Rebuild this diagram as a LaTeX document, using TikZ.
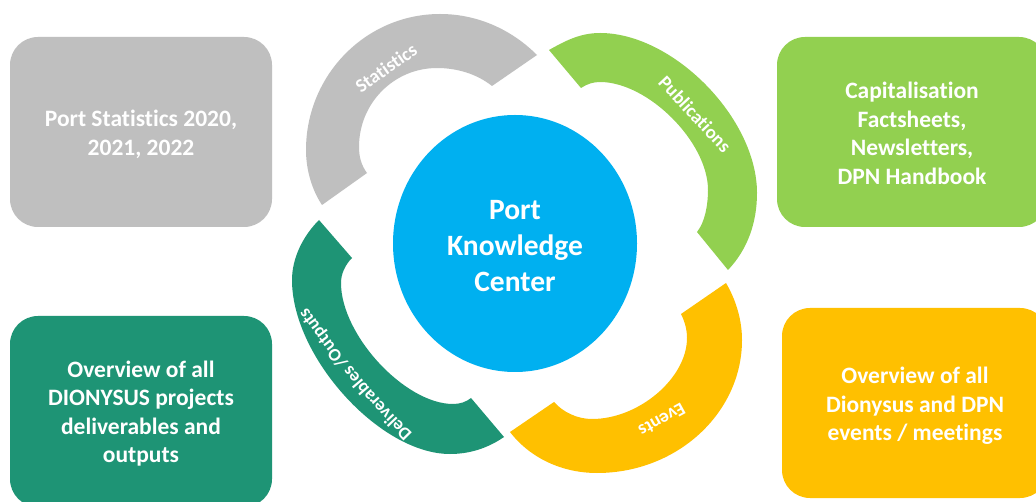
\documentclass[tikz,border=0pt]{standalone}
\usepackage{fontspec}
\setmainfont{Carlito}[Ligatures=CommonOff]
\usetikzlibrary{decorations.text,shapes.geometric}
\definecolor{cgray}{HTML}{BFBFBF}
\definecolor{cgreen}{HTML}{92D050}
\definecolor{cteal}{HTML}{1E9475}
\definecolor{camber}{HTML}{FFC000}
\definecolor{cblue}{HTML}{00B0F0}
\newcommand{\topstrut}[1]{\rule{0pt}{#1pt}}
\tikzset{
  infobox/.style={rounded corners=28pt,inner sep=0pt,text=white,align=center,font=\bfseries\fontsize{23.5}{28.5}\selectfont},
  hub/.style={ellipse,inner sep=0pt,fill=cblue,minimum width=244pt,minimum height=257pt,text=white,align=center,font=\bfseries\fontsize{29.5}{36}\selectfont},
  arclabel/.style={text=white,inner sep=0pt,font=\bfseries\fontsize{19}{21}\selectfont},
}
\begin{document}
\begin{tikzpicture}[x=1pt,y=-1pt]
\useasboundingbox (0,0) rectangle (1036,502);
\fill[white] (0,0) rectangle (1036,502);
% boxes
\node[infobox,fill=cgray,minimum width=262pt,minimum height=190pt] (stats) at (141,132) {\topstrut{21}Port Statistics 2020,\\2021, 2022};
\node[infobox,fill=cgreen,minimum width=270pt,minimum height=190pt] (pubs) at (912,132) {\topstrut{19}Capitalisation\\Factsheets,\\Newsletters,\\DPN Handbook};
\node[infobox,fill=cteal,minimum width=262pt,minimum height=191pt] (deliv) at (141,411.5) {\topstrut{21}Overview of all\\DIONYSUS projects\\deliverables and\\outputs};
\node[infobox,fill=camber,minimum width=266pt,minimum height=190pt] (events) at (915,403) {\topstrut{22}Overview of all\\Dionysus and DPN\\events / meetings};
% arcs
\fill[cgray] (322,205) .. controls (312,190) and (306,170) .. (306,150)
  .. controls (306,75) and (366,14) .. (440,14)
  .. controls (478,14) and (512,30) .. (537,55)
  -- (492,86) .. controls (477,74) and (457,68) .. (437,68)
  .. controls (394,68) and (359,103) .. (359,147)
  .. controls (359,156) and (361,165) .. (367,173) -- cycle;
\fill[cgreen] (549,50) .. controls (565,41) and (580,33) .. (600,33)
  .. controls (673,33) and (757,118) .. (757,193)
  .. controls (757,222) and (748,249) .. (728,270)
  -- (697,232) .. controls (705,222) and (708,205) .. (708,190)
  .. controls (708,142) and (648,82) .. (600,82)
  .. controls (593,82) and (587,84) .. (581,88) -- cycle;
\fill[cteal] (319,220) .. controls (303,236) and (292,258) .. (292,280)
  .. controls (292,357) and (380,454) .. (450,454)
  .. controls (470,454) and (488,448) .. (504,437)
  -- (471,398) .. controls (466,402) and (460,404) .. (453,404)
  .. controls (405,404) and (341,335) .. (341,283)
  .. controls (341,274) and (345,265) .. (352,258) -- cycle;
\fill[camber] (726,283) .. controls (736,300) and (742,320) .. (742,340)
  .. controls (742,413) and (677,473) .. (597,473)
  .. controls (562,473) and (530,458) .. (510,432)
  -- (554,402) .. controls (563,412) and (577,419) .. (592,419)
  .. controls (639,419) and (687,378) .. (687,338)
  .. controls (687,330) and (685,322) .. (681,314) -- cycle;
% hub
\node[hub] (center) at (515,243.5) {\topstrut{24}Port\\Knowledge\\Center};
% arc labels
\node[arclabel,rotate=35] (lstat) at (386,68) {Statistics};
\node[arclabel,rotate=-47] (lpub) at (695,114) {Publications};
\node[arclabel,font=\bfseries\fontsize{18.5}{21}\selectfont,rotate=209] (levt) at (662,420) {Events};
\path[decorate,decoration={text along path,text align=center,
  text={|\bfseries\fontsize{18}{21}\selectfont\color{white}|Deliverables /Outputs}}]
  (424,445) .. controls (377,400) and (335,349) .. (298,294);
\end{tikzpicture}
\end{document}
